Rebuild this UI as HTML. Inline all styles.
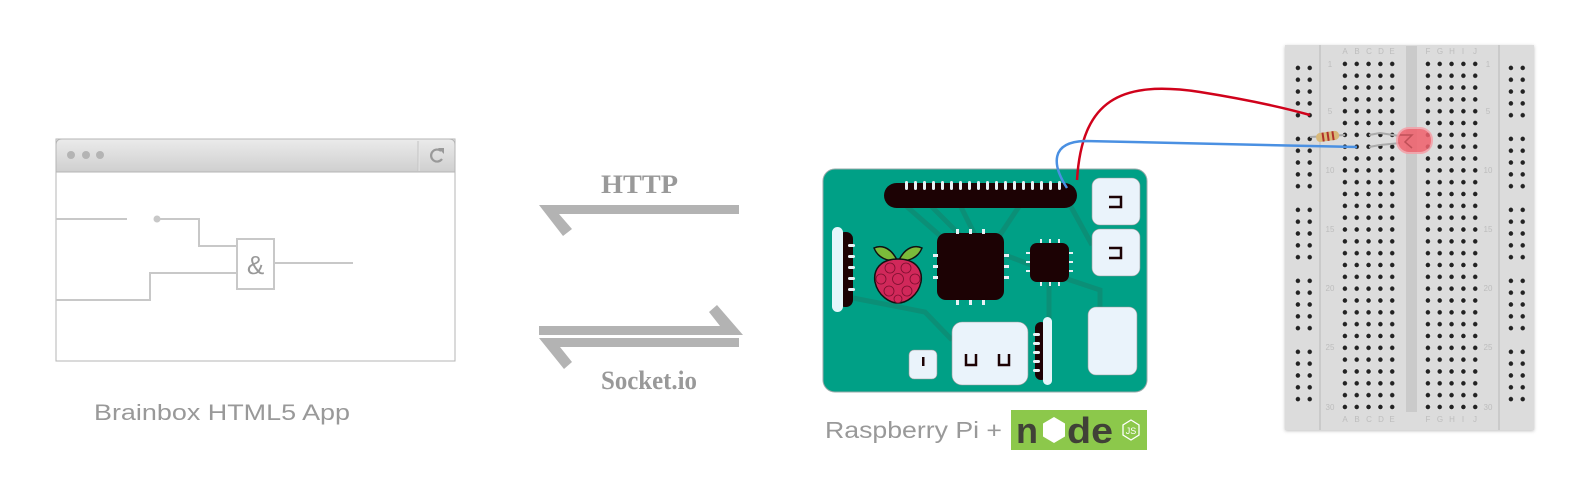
<!DOCTYPE html>
<html><head><meta charset="utf-8"><style>
html,body{margin:0;padding:0;background:#fff;}
svg{display:block}
</style></head><body>
<svg width="1589" height="503" viewBox="0 0 1589 503" xmlns="http://www.w3.org/2000/svg">
<defs>
<linearGradient id="tb" x1="0" y1="0" x2="0" y2="1"><stop offset="0" stop-color="#ebebeb"/><stop offset="1" stop-color="#cfcfcf"/></linearGradient>
<filter id="sh" x="-5%" y="-5%" width="110%" height="110%"><feDropShadow dx="0" dy="1" stdDeviation="1.5" flood-color="#000" flood-opacity="0.25"/></filter>
</defs>

<!-- Browser -->
<rect x="56" y="139" width="399" height="222" fill="#fff" stroke="#b5b5b5" stroke-width="1"/>
<path d="M56,172 L56,145 Q56,139 62,139 L449,139 Q455,139 455,145 L455,172 Z" fill="url(#tb)" stroke="#b5b5b5"/>
<line x1="418" y1="141" x2="418" y2="171" stroke="#c4c4c4"/>
<line x1="419" y1="141" x2="419" y2="171" stroke="#e6e6e6"/>
<circle cx="71" cy="155" r="4" fill="#b4b4b4"/><circle cx="86" cy="155" r="4" fill="#b4b4b4"/><circle cx="100" cy="155" r="4" fill="#b4b4b4"/>
<path d="M441,151 A6,6 0 1 0 442,159" fill="none" stroke="#999" stroke-width="2.2"/>
<path d="M438,148 L444,148 L444,154 Z" fill="#999"/>
<g stroke="#c8c8c8" stroke-width="2" fill="none">
<line x1="56" y1="219" x2="127" y2="219"/>
<polyline points="157,219 199,219 199,246 237,246"/>
<line x1="275" y1="263" x2="353" y2="263"/>
<polyline points="237,273 150,273 150,300 56,300"/>
<rect x="237" y="239" width="37" height="50"/>
</g>
<circle cx="157" cy="219" r="3.5" fill="#c8c8c8"/>
<text x="255.5" y="274" font-family="Liberation Sans, sans-serif" font-size="26" fill="#999" text-anchor="middle">&amp;</text>
<text x="94" y="420" font-family="Liberation Sans, sans-serif" font-size="22" fill="#999" textLength="256" lengthAdjust="spacingAndGlyphs">Brainbox HTML5 App</text>

<!-- Arrows -->
<g fill="#b3b3b3">
<polygon points="539,205 739,205 739,214 559,214 572,229 563,236"/>
<polygon points="539,326 720,326 709,312 717,305 743,335 539,335"/>
<polygon points="539,338 739,338 739,347 560,347 572,362 564,369"/>
</g>
<text x="601" y="193" font-family="Liberation Serif, serif" font-weight="bold" font-size="26" fill="#999" textLength="77" lengthAdjust="spacingAndGlyphs">HTTP</text>
<text x="601" y="389" font-family="Liberation Serif, serif" font-weight="bold" font-size="26" fill="#999" textLength="96" lengthAdjust="spacingAndGlyphs">Socket.io</text>

<!-- Raspberry Pi board -->
<rect x="823" y="169" width="324" height="223" rx="12" fill="#00a086" stroke="#9aa" stroke-width="1"/>
<g stroke="#0b8f77" stroke-width="5" fill="none">
<line x1="905" y1="205" x2="945" y2="240"/>
<line x1="930" y1="205" x2="960" y2="235"/>
<line x1="960" y1="205" x2="975" y2="235"/>
<line x1="1020" y1="205" x2="1000" y2="235"/>
<line x1="1070" y1="205" x2="1092" y2="245"/>
<polyline points="853,298 925,312 952,340"/>
<polyline points="1005,255 1070,280 1100,290 1100,307"/>
<line x1="1049" y1="282" x2="1049" y2="335"/>
</g>
<rect x="884" y="183" width="193" height="25" rx="12.5" fill="#1c0204"/>
<g fill="#e8f2f6">
<rect x="905" y="181" width="3" height="9" rx="1.5"/><rect x="914" y="181" width="3" height="9" rx="1.5"/><rect x="923" y="181" width="3" height="9" rx="1.5"/><rect x="932" y="181" width="3" height="9" rx="1.5"/><rect x="941" y="181" width="3" height="9" rx="1.5"/><rect x="950" y="181" width="3" height="9" rx="1.5"/><rect x="959" y="181" width="3" height="9" rx="1.5"/><rect x="968" y="181" width="3" height="9" rx="1.5"/><rect x="977" y="181" width="3" height="9" rx="1.5"/><rect x="986" y="181" width="3" height="9" rx="1.5"/><rect x="995" y="181" width="3" height="9" rx="1.5"/><rect x="1004" y="181" width="3" height="9" rx="1.5"/><rect x="1013" y="181" width="3" height="9" rx="1.5"/><rect x="1022" y="181" width="3" height="9" rx="1.5"/><rect x="1031" y="181" width="3" height="9" rx="1.5"/><rect x="1040" y="181" width="3" height="9" rx="1.5"/><rect x="1049" y="181" width="3" height="9" rx="1.5"/><rect x="1058" y="181" width="3" height="9" rx="1.5"/>
</g>
<rect x="1092" y="178" width="48" height="47" rx="8" fill="#eaf3fb" stroke="#999" stroke-width="0.6"/>
<rect x="1092" y="229" width="48" height="47" rx="8" fill="#eaf3fb" stroke="#999" stroke-width="0.6"/>
<rect x="1088" y="307" width="49" height="68" rx="8" fill="#eaf3fb" stroke="#999" stroke-width="0.6"/>
<path d="M1109,197 L1121,197 L1121,207 L1109,207" fill="none" stroke="#1c0204" stroke-width="2.5"/>
<path d="M1109,248 L1121,248 L1121,258 L1109,258" fill="none" stroke="#1c0204" stroke-width="2.5"/>
<rect x="838" y="232" width="15" height="75" rx="7" fill="#1c0204"/>
<rect x="832" y="227" width="11" height="85" rx="5.5" fill="#e5f6fb"/>
<g fill="#e8f2f6"><rect x="848" y="244" width="7" height="3" rx="1.5"/><rect x="848" y="255" width="7" height="3" rx="1.5"/><rect x="848" y="266" width="7" height="3" rx="1.5"/><rect x="848" y="277" width="7" height="3" rx="1.5"/><rect x="848" y="288" width="7" height="3" rx="1.5"/></g>
<g stroke="#111" stroke-width="1.5">
<path d="M897,260 C890,246 880,245 874,248 C878,258 888,262 897,260Z" fill="#7bbb3a"/>
<path d="M899,260 C906,246 916,245 922,248 C918,258 908,262 899,260Z" fill="#7bbb3a"/>
<path d="M898,259 C880,259 873,270 875,282 C878,296 890,303 898,303 C906,303 918,296 921,282 C923,270 916,259 898,259Z" fill="#d1285a"/>
</g>
<g fill="#d1285a" stroke="#7a0f2e" stroke-width="0.8">
<circle cx="890" cy="268" r="5"/><circle cx="906" cy="268" r="5"/><circle cx="881" cy="279" r="5"/><circle cx="898" cy="279" r="5.5"/><circle cx="915" cy="279" r="5"/><circle cx="889" cy="291" r="5"/><circle cx="907" cy="291" r="5"/><circle cx="898" cy="299" r="4"/>
</g>
<rect x="937" y="233" width="67" height="67" rx="9" fill="#1c0204"/>
<g fill="#e8f2f6">
<rect x="956" y="229" width="3" height="5"/><rect x="969" y="229" width="3" height="5"/><rect x="982" y="229" width="3" height="5"/>
<rect x="956" y="300" width="3" height="5"/><rect x="969" y="300" width="3" height="5"/><rect x="982" y="300" width="3" height="5"/>
<rect x="933" y="254" width="5" height="3"/><rect x="933" y="265" width="5" height="3"/><rect x="933" y="276" width="5" height="3"/>
<rect x="1004" y="254" width="5" height="3"/><rect x="1004" y="265" width="5" height="3"/><rect x="1004" y="276" width="5" height="3"/>
</g>
<rect x="1030" y="243" width="39" height="39" rx="7" fill="#1c0204"/>
<g fill="#e8f2f6">
<rect x="1040" y="239" width="2" height="4"/><rect x="1049" y="239" width="2" height="4"/><rect x="1058" y="239" width="2" height="4"/>
<rect x="1040" y="282" width="2" height="4"/><rect x="1049" y="282" width="2" height="4"/><rect x="1058" y="282" width="2" height="4"/>
<rect x="1026" y="252" width="4" height="2"/><rect x="1026" y="261" width="4" height="2"/><rect x="1026" y="270" width="4" height="2"/>
<rect x="1069" y="252" width="4" height="2"/><rect x="1069" y="261" width="4" height="2"/><rect x="1069" y="270" width="4" height="2"/>
</g>
<rect x="909" y="350" width="28" height="29" rx="5" fill="#eaf3fb" stroke="#999" stroke-width="0.6"/>
<rect x="922" y="357" width="2.5" height="9" fill="#1c0204"/>
<rect x="952" y="322" width="76" height="63" rx="10" fill="#eaf3fb" stroke="#999" stroke-width="0.6"/>
<path d="M966,354 L966,365 L976,365 L976,354" fill="none" stroke="#1c0204" stroke-width="2.5"/>
<path d="M999,354 L999,365 L1009,365 L1009,354" fill="none" stroke="#1c0204" stroke-width="2.5"/>
<rect x="1035" y="322" width="12" height="58" rx="6" fill="#1c0204"/>
<rect x="1043" y="317" width="9" height="68" rx="4.5" fill="#e5f6fb"/>
<g fill="#e8f2f6"><rect x="1033" y="333" width="7" height="3" rx="1.5"/><rect x="1033" y="342" width="7" height="3" rx="1.5"/><rect x="1033" y="351" width="7" height="3" rx="1.5"/><rect x="1033" y="360" width="7" height="3" rx="1.5"/><rect x="1033" y="369" width="7" height="3" rx="1.5"/></g>

<text x="825" y="438" font-family="Liberation Sans, sans-serif" font-size="23" fill="#999" textLength="177" lengthAdjust="spacingAndGlyphs">Raspberry Pi +</text>
<rect x="1011" y="410" width="136" height="40" fill="#8cc84b"/>
<text x="1016" y="443" font-family="Liberation Sans, sans-serif" font-weight="bold" font-size="36" fill="#404137">n</text>
<polygon points="1054,417 1065,423.5 1065,436.5 1054,443 1043,436.5 1043,423.5" fill="#fff"/>
<text x="1067" y="443" font-family="Liberation Sans, sans-serif" font-weight="bold" font-size="36" fill="#404137" textLength="46" lengthAdjust="spacingAndGlyphs">de</text>
<polygon points="1131,420 1139,425 1139,435 1131,440 1123,435 1123,425" fill="none" stroke="#fff" stroke-width="1.3"/>
<text x="1131" y="434" font-family="Liberation Sans, sans-serif" font-size="9" fill="#fff" text-anchor="middle">JS</text>

<!-- Breadboard -->
<rect x="1285" y="45" width="249" height="385" fill="#dcdcdc" filter="url(#sh)"/>
<line x1="1320" y1="45" x2="1320" y2="430" stroke="#b8b8b8"/>
<line x1="1499" y1="45" x2="1499" y2="430" stroke="#b8b8b8"/>
<rect x="1406" y="46" width="11" height="366" fill="#cacaca"/>
<g font-family="Liberation Sans, sans-serif" font-size="8" fill="#bdbdbd" text-anchor="middle">
<text x="1345" y="54">A</text><text x="1357" y="54">B</text><text x="1369" y="54">C</text><text x="1381" y="54">D</text><text x="1392" y="54">E</text>
<text x="1428" y="54">F</text><text x="1440" y="54">G</text><text x="1452" y="54">H</text><text x="1463" y="54">I</text><text x="1475" y="54">J</text>
<text x="1345" y="422">A</text><text x="1357" y="422">B</text><text x="1369" y="422">C</text><text x="1381" y="422">D</text><text x="1392" y="422">E</text>
<text x="1428" y="422">F</text><text x="1440" y="422">G</text><text x="1452" y="422">H</text><text x="1463" y="422">I</text><text x="1475" y="422">J</text>
<text x="1330" y="67">1</text><text x="1330" y="114">5</text><text x="1330" y="173">10</text><text x="1330" y="232">15</text><text x="1330" y="291">20</text><text x="1330" y="350">25</text><text x="1330" y="410">30</text>
<text x="1488" y="67">1</text><text x="1488" y="114">5</text><text x="1488" y="173">10</text><text x="1488" y="232">15</text><text x="1488" y="291">20</text><text x="1488" y="350">25</text><text x="1488" y="410">30</text>
</g>
<defs>
<pattern id="main" x="1339" y="58" width="11.83" height="11.83" patternUnits="userSpaceOnUse"><circle cx="5.9" cy="5.9" r="3" fill="#eee"/><circle cx="5.9" cy="5.9" r="2.3" fill="#222"/></pattern>
<pattern id="main2" x="1422" y="58" width="11.83" height="11.83" patternUnits="userSpaceOnUse"><circle cx="5.9" cy="5.9" r="3" fill="#eee"/><circle cx="5.9" cy="5.9" r="2.3" fill="#222"/></pattern>
<pattern id="rl" x="1292" y="62" width="11.83" height="11.83" patternUnits="userSpaceOnUse"><circle cx="5.9" cy="5.9" r="3" fill="#eee"/><circle cx="5.9" cy="5.9" r="2.3" fill="#222"/></pattern>
<pattern id="rr" x="1505" y="62" width="11.83" height="11.83" patternUnits="userSpaceOnUse"><circle cx="5.9" cy="5.9" r="3" fill="#eee"/><circle cx="5.9" cy="5.9" r="2.3" fill="#222"/></pattern>
</defs>
<rect x="1339" y="58" width="59" height="355" fill="url(#main)"/>
<rect x="1422" y="58" width="59" height="355" fill="url(#main2)"/>
<g>
<rect x="1292" y="62" width="24" height="59" fill="url(#rl)"/><rect x="1292" y="133" width="24" height="59" fill="url(#rl)"/><rect x="1292" y="204" width="24" height="59" fill="url(#rl)"/><rect x="1292" y="275" width="24" height="59" fill="url(#rl)"/><rect x="1292" y="346" width="24" height="59" fill="url(#rl)"/>
<rect x="1505" y="62" width="24" height="59" fill="url(#rr)"/><rect x="1505" y="133" width="24" height="59" fill="url(#rr)"/><rect x="1505" y="204" width="24" height="59" fill="url(#rr)"/><rect x="1505" y="275" width="24" height="59" fill="url(#rr)"/><rect x="1505" y="346" width="24" height="59" fill="url(#rr)"/>
</g>
<g stroke="#aaa" stroke-width="2" fill="none">
<line x1="1310" y1="137" x2="1345" y2="135"/>
<polyline points="1369,135 1380,133 1400,136"/>
<polyline points="1369,147 1380,145 1400,143"/>
</g>
<rect x="1316" y="132" width="23" height="9" rx="4" fill="#d8b878" transform="rotate(-8 1327 136)"/>
<g fill="#b0302a" transform="rotate(-8 1327 136)"><rect x="1322" y="132" width="2" height="9"/><rect x="1327" y="132" width="2" height="9"/><rect x="1332" y="132" width="2" height="9"/></g>
<rect x="1397" y="128" width="35" height="25" rx="12" fill="#f0606c" opacity="0.85" stroke="#f4a0a8" stroke-width="2"/>
<path d="M1400,135 L1412,135 L1405,142 L1412,148" fill="none" stroke="#c05058" stroke-width="1.5"/>
<path d="M1077,180 C1082,100 1120,80 1200,92 C1250,100 1285,108 1310,115" fill="none" stroke="#d0021b" stroke-width="2.5"/>
<path d="M1067,188 C1052,165 1050,142 1085,141 L1357,147" fill="none" stroke="#4a90e2" stroke-width="2.5"/>
</svg>
</body></html>
